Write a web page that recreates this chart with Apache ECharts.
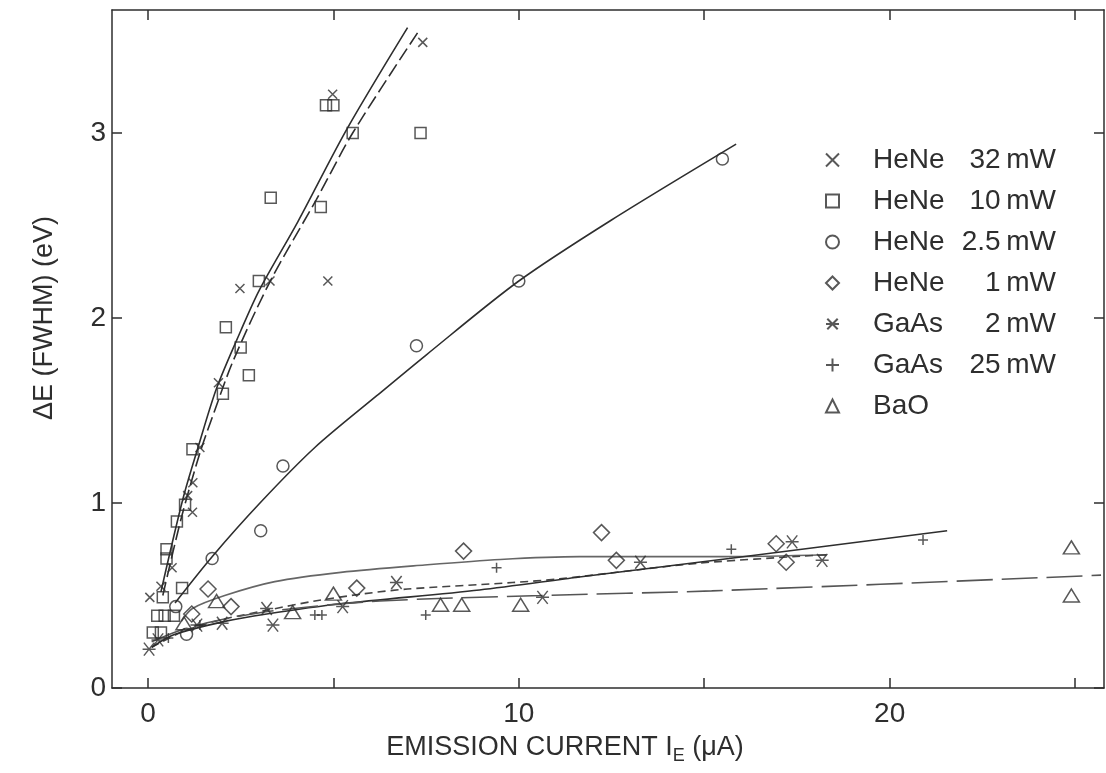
<!DOCTYPE html>
<html><head><meta charset="utf-8">
<script src="https://cdn.jsdelivr.net/npm/echarts@6/dist/echarts.min.js"></script>
<style>html,body{margin:0;padding:0;background:#fff}#c{width:1106px;height:773px}</style>
</head><body><div id="c"></div>
<script>
// ---- tick values ----
const xTicks = [0, 5, 10, 15, 20, 25];
const xTickLabels = [0, 10, 20];
const yTicks = [0, 1, 2, 3];

// ---- measured points ----
const heNe32 = [[0.05,0.49],[0.35,0.55],[0.65,0.65],[1.07,1.04],[1.2,0.95],[1.21,1.11],[1.4,1.3],[1.9,1.65],[2.48,2.16],[3.29,2.2],[4.85,2.2],[4.98,3.21],[7.41,3.49]];
const heNe10 = [[0.13,0.30],[0.35,0.30],[0.25,0.39],[0.45,0.39],[0.7,0.39],[0.4,0.49],[0.5,0.70],[0.5,0.75],[0.78,0.9],[0.92,0.54],[1.0,0.99],[1.2,1.29],[2.02,1.59],[2.1,1.95],[2.5,1.84],[2.72,1.69],[2.99,2.2],[3.31,2.65],[4.66,2.6],[4.8,3.15],[5.0,3.15],[5.52,3.0],[7.35,3.0]];
const heNe25 = [[0.75,0.44],[1.04,0.29],[1.73,0.70],[3.04,0.85],[3.64,1.2],[7.24,1.85],[10.0,2.2],[15.49,2.86]];
const heNe1 = [[1.18,0.40],[1.62,0.535],[2.24,0.44],[5.63,0.54],[8.51,0.74],[12.23,0.84],[12.63,0.69],[16.94,0.78],[17.21,0.68]];
const gaAs2 = [[0.03,0.21],[0.27,0.26],[1.32,0.34],[2.0,0.35],[3.2,0.43],[3.37,0.34],[5.25,0.44],[6.7,0.57],[10.64,0.49],[13.28,0.68],[17.37,0.79],[18.18,0.69]];
const gaAs25 = [[0.55,0.27],[1.4,0.34],[4.5,0.395],[4.69,0.395],[7.49,0.395],[9.4,0.65],[15.73,0.75],[20.9,0.80]];
const baO = [[0.97,0.35],[1.85,0.47],[3.9,0.41],[5.0,0.51],[7.89,0.45],[8.46,0.45],[10.05,0.45],[24.9,0.76],[24.9,0.50]];

// ---- fitted curves as drawn ----
const curve32 = [[0.35,0.52],[0.94,1.02],[1.35,1.3],[1.85,1.62],[2.5,1.93],[3.0,2.15],[4.04,2.52],[5.36,3.02],[7.0,3.57]];
const curve10 = [[0.4,0.5],[0.9,0.92],[1.4,1.27],[1.8,1.5],[2.3,1.77],[3.3,2.2],[4.54,2.64],[5.52,3.0],[7.33,3.56]];
const curve25 = [[0.73,0.46],[1.73,0.71],[3.02,1.0],[4.5,1.3],[6.17,1.58],[7.5,1.8],[10.0,2.2],[12.5,2.53],[15.86,2.94]];
const curve1 = [[0.9,0.36],[1.2,0.43],[2.07,0.5],[3.42,0.575],[5.2,0.625],[7.46,0.665],[9.5,0.695],[11.63,0.71],[15.67,0.71],[18.3,0.72]];
const curveGaAs2 = [[0.1,0.22],[1.0,0.31],[2.0,0.37],[3.2,0.42],[4.5,0.47],[5.85,0.51],[7.0,0.535],[9.83,0.57],[11.1,0.59],[14.87,0.675],[18.3,0.72]];
const curveGaAs25 = [[0.1,0.22],[0.73,0.29],[2.07,0.36],[3.2,0.4],[5.2,0.455],[8.94,0.53],[11.63,0.6],[15.67,0.7],[21.55,0.85]];
const curveBaO = [[0.1,0.25],[1.0,0.32],[2.0,0.37],[3.5,0.42],[6.25,0.47],[10.6,0.5],[15.2,0.525],[25.7,0.61]];

const seriesNames = ['HeNe 32mW','HeNe 10mW','HeNe 2.5mW','HeNe 1mW','GaAs 2mW','GaAs 25mW','BaO'];

const INK = '#2e2e2e';
const FONT = '"Liberation Sans", Arial, sans-serif';
const SYM_X = 'path://M0,0L10,10M10,0L0,10';
const SYM_PLUS = 'path://M5,0L5,10M0,5L10,5';
const SYM_AST = 'path://M1,1L9,9M1,9L9,1M0,5L10,5';

function scatter(name, data, symbol, size) {
  return {
    name, type: 'scatter', data, symbol, symbolSize: size,
    itemStyle: { color: 'rgba(255,255,255,0)', borderColor: INK, borderWidth: 1.5 },
    z: 5
  };
}
function curve(data, type, color) {
  return {
    type: 'line', data, smooth: 0.3, showSymbol: false, silent: true,
    lineStyle: { color: color || INK, width: 1.6, type: type },
    z: 3
  };
}

const axisLine = { show: true, onZero: false, lineStyle: { color: INK, width: 1.5 } };
const tickStyle = { color: INK, width: 1.5 };

const chart = echarts.init(document.getElementById('c'));
chart.setOption({
  animation: false,
  backgroundColor: '#fff',
  grid: { left: 112, right: 2, top: 10, bottom: 85 },
  xAxis: [
    { type: 'value', min: -0.97, max: 25.78, position: 'bottom', axisLine,
      axisTick: { show: true, inside: true, length: 10, customValues: xTicks, lineStyle: tickStyle },
      axisLabel: { customValues: xTickLabels, fontSize: 28, color: INK, margin: 12, fontFamily: FONT },
      splitLine: { show: false } },
    { type: 'value', min: -0.97, max: 25.78, position: 'top', axisLine,
      axisTick: { show: true, inside: true, length: 10, customValues: xTicks, lineStyle: tickStyle },
      axisLabel: { show: false }, splitLine: { show: false } }
  ],
  yAxis: [
    { type: 'value', min: 0, max: 3.665, position: 'left', axisLine,
      axisTick: { show: true, inside: true, length: 10, customValues: yTicks, lineStyle: tickStyle },
      axisLabel: { customValues: yTicks, fontSize: 28, color: INK, margin: 6, fontFamily: FONT },
      splitLine: { show: false } },
    { type: 'value', min: 0, max: 3.665, position: 'right', axisLine,
      axisTick: { show: true, inside: true, length: 10, customValues: yTicks, lineStyle: tickStyle },
      axisLabel: { show: false }, splitLine: { show: false } }
  ],
  legend: {
    data: seriesNames, orient: 'vertical', left: 820, top: 141,
    itemWidth: 13, itemHeight: 13, itemGap: 13, selectedMode: false,
    formatter: function (n) {
      const i = n.lastIndexOf(' ');
      if (i < 0) return '{a|' + n + '}{b|}';
      return '{a|' + n.slice(0, i) + '}{b|' + n.slice(i + 1).replace('mW', '\u2009mW') + '}';
    },
    textStyle: {
      color: INK, fontFamily: FONT, fontSize: 28,
      rich: {
        a: { fontSize: 28, fontFamily: FONT, color: INK, width: 80, padding: [0, 0, 0, 29], lineHeight: 28 },
        b: { fontSize: 28, fontFamily: FONT, color: INK, width: 103, align: 'right', lineHeight: 28 }
      }
    }
  },
  graphic: [
    { type: 'text', x: 45, y: 318, rotation: Math.PI / 2,
      style: { text: 'ΔE (FWHM) (eV)', fontSize: 27, fontFamily: FONT, fill: INK, align: 'center', verticalAlign: 'middle' } },
    { type: 'text', x: 565, y: 748,
      style: { text: '{a|EMISSION CURRENT I}{s|E}{a| (μA)}', align: 'center', verticalAlign: 'middle',
        rich: { a: { fontSize: 27, fontFamily: FONT, fill: INK, verticalAlign: 'middle' },
                s: { fontSize: 18, fontFamily: FONT, fill: INK, padding: [16, 0, 0, 0] } } } }
  ],
  series: [
    curve(curve32, 'solid'),
    curve(curve10, [14, 5]),
    curve(curve25, 'solid'),
    curve(curve1, 'solid', '#666'),
    curve(curveGaAs2, [8, 5], '#444'),
    curve(curveGaAs25, 'solid'),
    curve(curveBaO, [36, 9], '#555'),
    scatter(seriesNames[0], heNe32, SYM_X, 9),
    scatter(seriesNames[1], heNe10, 'rect', 11),
    scatter(seriesNames[2], heNe25, 'circle', 12),
    scatter(seriesNames[3], heNe1, 'diamond', 16),
    scatter(seriesNames[4], gaAs2, SYM_AST, 13),
    scatter(seriesNames[5], gaAs25, SYM_PLUS, 10),
    scatter(seriesNames[6], baO, 'triangle', [16, 13])
  ]
});
</script></body></html>
